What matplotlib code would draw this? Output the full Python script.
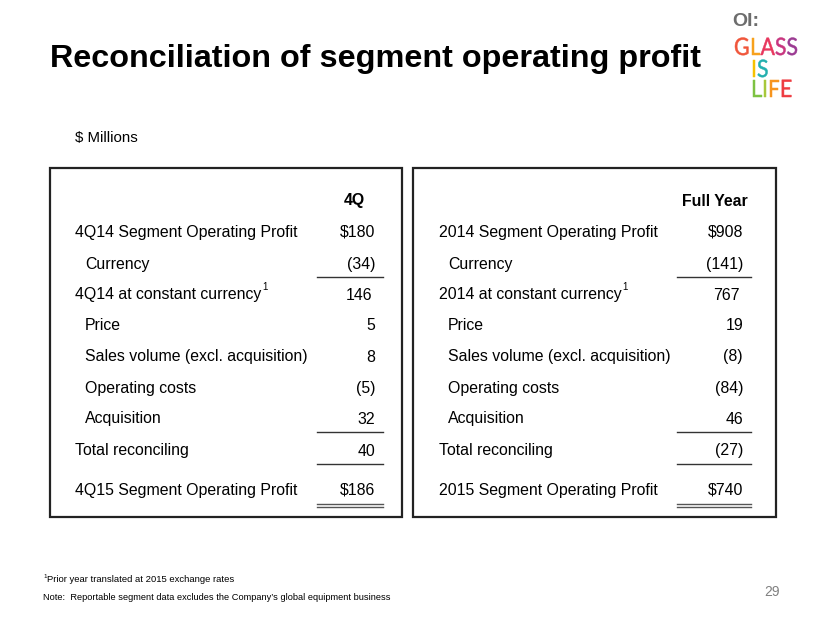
import matplotlib
matplotlib.use("Agg")
import matplotlib.pyplot as plt
from matplotlib.textpath import TextPath, TextToPath
from matplotlib.patches import PathPatch
from matplotlib.font_manager import FontProperties
from matplotlib.transforms import Affine2D

plt.rcParams['font.family'] = ['Liberation Sans', 'DejaVu Sans']

title = "Reconciliation of segment operating profit"
unit_label = "$ Millions"

left_header = "4Q"
left_labels = ["4Q14 Segment Operating Profit", "Currency", "4Q14 at constant currency",
               "Price", "Sales volume (excl. acquisition)", "Operating costs", "Acquisition",
               "Total reconciling", "4Q15 Segment Operating Profit"]
left_values = ["$180", "(34)", "146", "5", "8", "(5)", "32", "40", "$186"]

right_header = "Full Year"
right_labels = ["2014 Segment Operating Profit", "Currency", "2014 at constant currency",
                "Price", "Sales volume (excl. acquisition)", "Operating costs", "Acquisition",
                "Total reconciling", "2015 Segment Operating Profit"]
right_values = ["$908", "(141)", "767", "19", "(8)", "(84)", "46", "(27)", "$740"]

indented = [False, True, False, True, True, True, True, False, False]
superscript_rows = [2]
underline_rows = [1, 6, 7]
double_underline_rows = [8]

footnote1 = "Prior year translated at 2015 exchange rates"
footnote2 = "Note:  Reportable segment data excludes the Company\u2019s global equipment business"
page_num = "29"

logo_top = "OI:"
logo_words = ["GLASS", "IS", "LIFE"]
logo_colors = [['#f0553a', '#f7a11c', '#e8365d', '#c8357f', '#9b3a92'],
               ['#f6c200', '#22afae'],
               ['#7dc242', '#a8c83a', '#f7941d', '#ee3b40']]

fig = plt.figure(figsize=(8.3, 6.23), dpi=100)
ax = fig.add_axes([0, 0, 1, 1])
ax.set_xlim(0, 830)
ax.set_ylim(623, 0)
ax.axis('off')

ax.text(50, 59, title, fontsize=23.3, fontweight='bold', ha='left', va='center', color='black')
ax.text(75, 138, unit_label, fontsize=10.8, ha='left', va='center', color='black')

row_y = [231, 263, 294, 325, 356, 387, 418, 450, 489]
header_y = 200
fs = 11.4
bl = 5.5  # baseline offset from row center

def draw_table(x0, x1, lx, lx_ind, vx, ul0, ul1, header, hx, ha_h, labels, values):
    rect = plt.Rectangle((x0, 168), x1 - x0, 349, fill=False, edgecolor='#222222', lw=1.6)
    ax.add_patch(rect)
    ax.text(hx, header_y + bl, header, fontsize=fs, fontweight='bold', ha=ha_h, va='baseline')
    for i, (lab, val) in enumerate(zip(labels, values)):
        y = row_y[i]
        x = lx_ind if indented[i] else lx
        t = ax.text(x, y + bl, lab, fontsize=fs, ha='left', va='baseline')
        if i in superscript_rows:
            fig.canvas.draw()
            bb = t.get_window_extent(renderer=fig.canvas.get_renderer())
            ax.text(bb.x1 + 1, y - 7, "1", fontsize=7, ha='left', va='center')
        vxx = vx - 3 if i in superscript_rows else vx
        ax.text(vxx, y + bl, val, fontsize=fs, ha='right', va='baseline')
        if i in underline_rows:
            ax.plot([ul0, ul1], [y + 14, y + 14], color='#333333', lw=1.0)
        if i in double_underline_rows:
            ax.plot([ul0, ul1], [y + 15, y + 15], color='#555555', lw=1.0)
            ax.plot([ul0, ul1], [y + 18, y + 18], color='#555555', lw=1.0)

draw_table(50, 402, 75, 85, 375, 317, 383, left_header, 354, 'center', left_labels, left_values)
draw_table(413, 776, 439, 448, 743, 677, 751, right_header, 748, 'right', right_labels, right_values)

ax.text(43, 577, "1", fontsize=4.5, ha='left', va='center')
ax.text(47, 580, footnote1, fontsize=6.8, ha='left', va='center')
ax.text(43, 597, footnote2, fontsize=6.7, ha='left', va='center')
ax.text(780, 592, page_num, fontsize=10, ha='right', va='center', color='#808080')

# logo
ax.text(732, 22, logo_top, fontsize=14, fontweight='bold', ha='left', va='center', color='#6d6d6d')

fp = FontProperties(family='Lato', size=24)
t2p = TextToPath()
def adv(s):
    if not s:
        return 0.0
    w, h, d = t2p.get_text_width_height_descent(s, fp, ismath=False)
    return w

ref_w = adv("GLASS")
sx = 64.0 / ref_w
sy = 1.0
logo_pos = [(734, 55), (751, 77), (751, 97)]
for (x0, yb), word, cols in zip(logo_pos, logo_words, logo_colors):
    for i, (ch, c) in enumerate(zip(word, cols)):
        xo = x0 + adv(word[:i]) * sx
        tp = TextPath((0, 0), ch, prop=fp)
        tr = Affine2D().scale(sx, -sy).translate(xo, yb) + ax.transData
        ax.add_patch(PathPatch(tp, transform=tr, facecolor=c, edgecolor=c, lw=0.35))

fig.savefig("out.png", dpi=100)
